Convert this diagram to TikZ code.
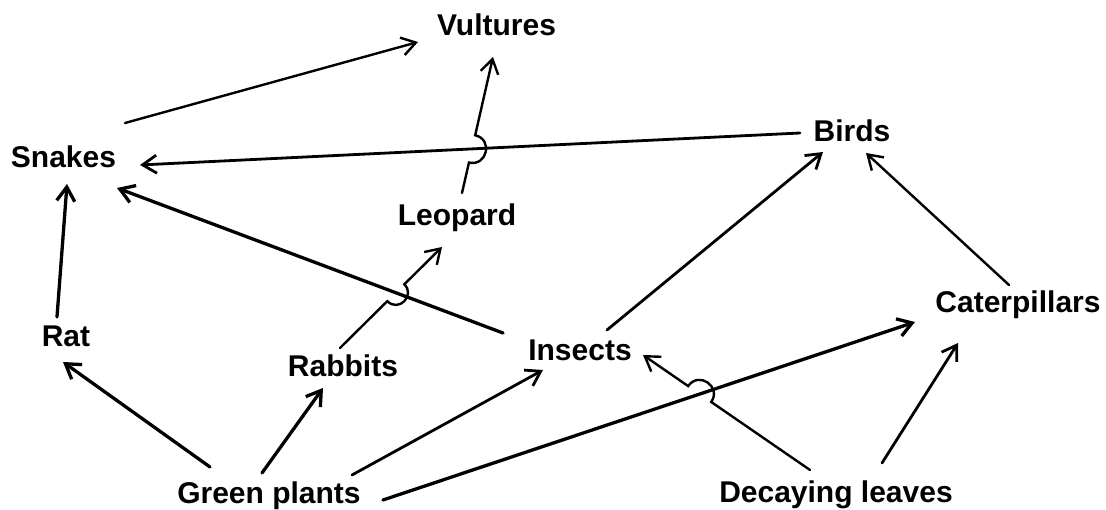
\documentclass[tikz,border=0pt]{standalone}
\usepackage{fontspec}
\setmainfont{Liberation Sans}
\usetikzlibrary{arrows.meta,calc,intersections}
\begin{document}
\begin{tikzpicture}[x=1pt,y=-1pt,
  lbl/.style={font=\fontsize{30}{36}\selectfont\bfseries, anchor=base, inner sep=0pt},
  arr/.style={line width=2.8pt, line cap=round, -{Straight Barb[length=14pt,width=18pt]}},
  thick arr/.style={arr, line width=3.3pt},
  thin arr/.style={arr, line width=2.4pt},
]
\useasboundingbox (0,0) rectangle (1106,510);
% nodes
\node[lbl] (vultures) at (496.5,36) {Vultures};
\node[lbl] (snakes) at (63.5,168) {Snakes};
\node[lbl] (birds) at (852,141.5) {Birds};
\node[lbl] (leopard) at (457,226) {Leopard};
\node[lbl] (rat) at (66,347) {Rat};
\node[lbl] (rabbits) at (343,377) {Rabbits};
\node[lbl] (insects) at (580,361) {Insects};
\node[lbl] (caterpillars) at (1018,313) {Caterpillars};
\node[lbl] (green) at (269,503) {Green plants};
\node[lbl] (decaying) at (836,502) {Decaying leaves};

% straight connectors
\draw[thin arr] ($(snakes.base)+(61.5,-45)$) -- ($(vultures.base)+(-78.5,6)$);
\draw[arr, name path=bs] ($(birds.base)+(-52,-8.5)$) -- ($(snakes.base)+(76.5,-3)$);
\draw[thick arr, name path=is] ($(insects.base)+(-77,-28)$) -- ($(snakes.base)+(53.5,20)$);
\draw[thick arr] ($(rat.base)+(-9,-30)$) -- ($(snakes.base)+(3.5,16)$);
\draw[arr] ($(insects.base)+(27,-31)$) -- ($(birds.base)+(-29,10.5)$);
\draw[thin arr] ($(caterpillars.base)+(-9,-28)$) -- ($(birds.base)+(14,11.5)$);
\draw[thick arr] ($(green.base)+(-59,-36)$) -- ($(rat.base)+(-3,15)$);
\draw[thick arr] ($(green.base)+(-7,-30)$) -- ($(rabbits.base)+(-20,11)$);
\draw[arr] ($(green.base)+(83,-28)$) -- ($(insects.base)+(-37,9)$);
\draw[thick arr, name path=gc] ($(green.base)+(114,-3)$) -- ($(caterpillars.base)+(-103,9)$);
\draw[arr] ($(decaying.base)+(46,-39)$) -- ($(caterpillars.base)+(-60,30)$);

% connectors with line jumps
% Leopard -> Vultures over Birds -> Snakes
\coordinate (lv1) at ($(leopard.base)+(5,-33)$);
\coordinate (lv2) at ($(vultures.base)+(-3.5,21)$);
\path[name path=lvp] (lv1) -- (lv2);
\path[name intersections={of=bs and lvp, by=h1}];
\coordinate (h1a) at ($(h1)!14pt!(lv1)$);
\coordinate (h1b) at ($(h1)!14pt!(lv2)$);
\draw[thin arr] (lv1) -- (h1a) .. controls ($(h1a)!1.333!-90:(h1)$) and ($(h1b)!1.333!90:(h1)$) .. (h1b) -- (lv2);

% Rabbits -> Leopard over Insects -> Snakes
\coordinate (rl1) at ($(rabbits.base)+(-3,-29)$);
\coordinate (rl2) at ($(leopard.base)+(-15,21)$);
\path[name path=rlp] (rl1) -- (rl2);
\path[name intersections={of=is and rlp, by=h2}];
\coordinate (h2a) at ($(h2)!12pt!(rl1)$);
\coordinate (h2b) at ($(h2)!12pt!(rl2)$);
\draw[thin arr] (rl1) -- (h2a) .. controls ($(h2a)!1.333!-90:(h2)$) and ($(h2b)!1.333!90:(h2)$) .. (h2b) -- (rl2);

% Decaying leaves -> Insects over Green plants -> Caterpillars
\coordinate (di1) at ($(decaying.base)+(-26,-32)$);
\coordinate (di2) at ($(insects.base)+(63,-6)$);
\path[name path=dip] (di1) -- (di2);
\path[name intersections={of=gc and dip, by=h3}];
\coordinate (h3a) at ($(h3)!14pt!(di1)$);
\coordinate (h3b) at ($(h3)!14pt!(di2)$);
\draw[thin arr] (di1) -- (h3a) .. controls ($(h3a)!1.333!-90:(h3)$) and ($(h3b)!1.333!90:(h3)$) .. (h3b) -- (di2);
\end{tikzpicture}
\end{document}
